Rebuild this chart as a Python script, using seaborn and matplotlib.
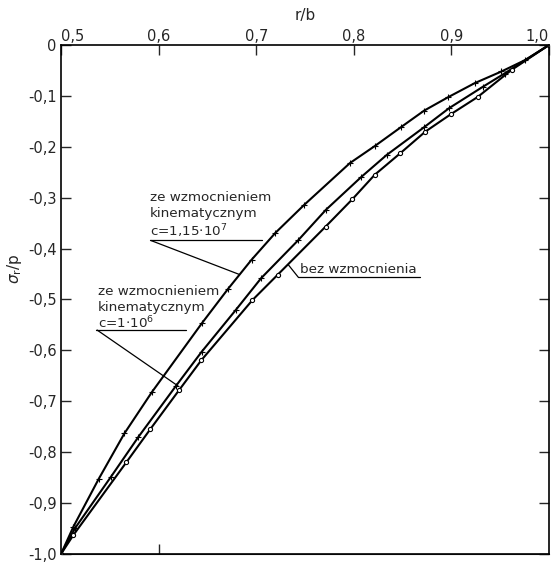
import numpy as np
import pandas as pd
import matplotlib
matplotlib.use("Agg")
import matplotlib.pyplot as plt
import seaborn as sns

# punkty (r/b, sigma_r/p)
x_c1 = [0.5, 0.5128, 0.5385, 0.5650, 0.5931, 0.6446, 0.6708, 0.6952, 0.7197, 0.7492,
        0.7960, 0.8219, 0.8479, 0.8720, 0.8962, 0.9238, 0.9513, 0.9751, 1.0]
y_c1 = [-1.0, -0.946, -0.853, -0.763, -0.682, -0.546, -0.480, -0.422, -0.369, -0.314,
        -0.232, -0.198, -0.162, -0.129, -0.103, -0.075, -0.052, -0.030, 0.0]

x_c2 = [0.5, 0.5145, 0.5513, 0.5793, 0.6177, 0.6440, 0.6789, 0.7051, 0.7433, 0.7713,
        0.8078, 0.8337, 0.8717, 0.8977, 0.9323, 0.9544, 1.0]
y_c2 = [-1.0, -0.949, -0.848, -0.770, -0.670, -0.603, -0.521, -0.458, -0.383, -0.324,
        -0.259, -0.216, -0.162, -0.124, -0.082, -0.056, 0.0]

x_bez = [0.5, 0.5126, 0.5669, 0.5914, 0.6210, 0.6439, 0.6962, 0.7222, 0.7710, 0.7985,
         0.8214, 0.8474, 0.8734, 0.8994, 0.9270, 0.9616, 1.0]
y_bez = [-1.0, -0.963, -0.820, -0.755, -0.678, -0.619, -0.501, -0.451, -0.357, -0.303,
         -0.255, -0.213, -0.170, -0.136, -0.102, -0.049, 0.0]

x_ticks = [0.5, 0.6, 0.7, 0.8, 0.9, 1.0]
x_labels = ["0,5", "0,6", "0,7", "0,8", "0,9", "1,0"]
y_ticks = [0, -0.1, -0.2, -0.3, -0.4, -0.5, -0.6, -0.7, -0.8, -0.9, -1.0]
y_labels = ["0", "-0,1", "-0,2", "-0,3", "-0,4", "-0,5", "-0,6", "-0,7", "-0,8", "-0,9", "-1,0"]

sns.set_style("ticks")
plt.rcParams["font.family"] = ["DejaVu Sans"]

fig = plt.figure(figsize=(5.52, 5.66), dpi=100)
ax = fig.add_axes([0.1105, 0.0212, 0.8841, 0.8993])

# krzywe ze wzmocnieniem kinematycznym (znaczniki kreskowe)
for xs, ys in [(x_c1, y_c1), (x_c2, y_c2)]:
    sns.lineplot(x=xs, y=ys, sort=False, estimator=None, color="black",
                 linewidth=1.5, marker="+", markersize=4.5, markeredgewidth=0.8,
                 markeredgecolor="black", ax=ax)
# krzywa bez wzmocnienia (kolka)
sns.lineplot(x=x_bez, y=y_bez, sort=False, estimator=None, color="black",
             linewidth=1.5, marker="o", markersize=3, markerfacecolor="white",
             markeredgecolor="black", markeredgewidth=0.8, ax=ax)

ax.set_xlim(0.5, 1.0)
ax.set_ylim(-1.0, 0.0)

ax.xaxis.set_ticks_position("top")
ax.xaxis.set_label_position("top")
ax.set_xticks(x_ticks)
ax.set_xticklabels(x_labels)
ax.get_xticklabels()[0].set_horizontalalignment("left")
ax.get_xticklabels()[-1].set_horizontalalignment("right")
ax.set_yticks(y_ticks)
ax.set_yticklabels(y_labels)
ax.tick_params(axis="x", direction="in", length=7, width=1, labelsize=10.5, pad=1)
ax.tick_params(axis="y", direction="in", length=7, width=1, labelsize=10.5,
               right=True, pad=3)
sec = ax.secondary_xaxis("bottom")
sec.set_xticks([0.6])
sec.set_xticklabels([""])
sec.tick_params(direction="in", length=7, width=1)

ax.set_xlabel("r/b", fontsize=11, labelpad=6)
ax.set_ylabel(r"$\sigma_{\rm r}$/p", fontsize=11)
ax.yaxis.set_label_coords(-0.075, 0.56)

for sp in ax.spines.values():
    sp.set_color("black")
    sp.set_linewidth(1.2)
    sp.set_visible(True)

# opisy krzywych
fs = 9.7
ax.text(0.591, -0.299, "ze wzmocnieniem", fontsize=fs, va="center")
ax.text(0.591, -0.331, "kinematycznym", fontsize=fs, va="center")
ax.text(0.591, -0.365, r"c=1,15$\cdot$10$^7$", fontsize=fs, va="center")
ax.plot([0.591, 0.706], [-0.383, -0.383], color="black", lw=0.9)
ax.plot([0.592, 0.683], [-0.384, -0.451], color="black", lw=0.9)

ax.text(0.538, -0.485, "ze wzmocnieniem", fontsize=fs, va="center")
ax.text(0.538, -0.516, "kinematycznym", fontsize=fs, va="center")
ax.text(0.538, -0.546, r"c=1$\cdot$10$^6$", fontsize=fs, va="center")
ax.plot([0.536, 0.628], [-0.559, -0.559], color="black", lw=0.9)
ax.plot([0.537, 0.620], [-0.560, -0.670], color="black", lw=0.9)

ax.text(0.745, -0.442, "bez wzmocnienia", fontsize=fs, va="center")
ax.plot([0.743, 0.868], [-0.456, -0.456], color="black", lw=0.9)
ax.plot([0.743, 0.733], [-0.456, -0.432], color="black", lw=0.9)

fig.savefig("out.png", dpi=100)
